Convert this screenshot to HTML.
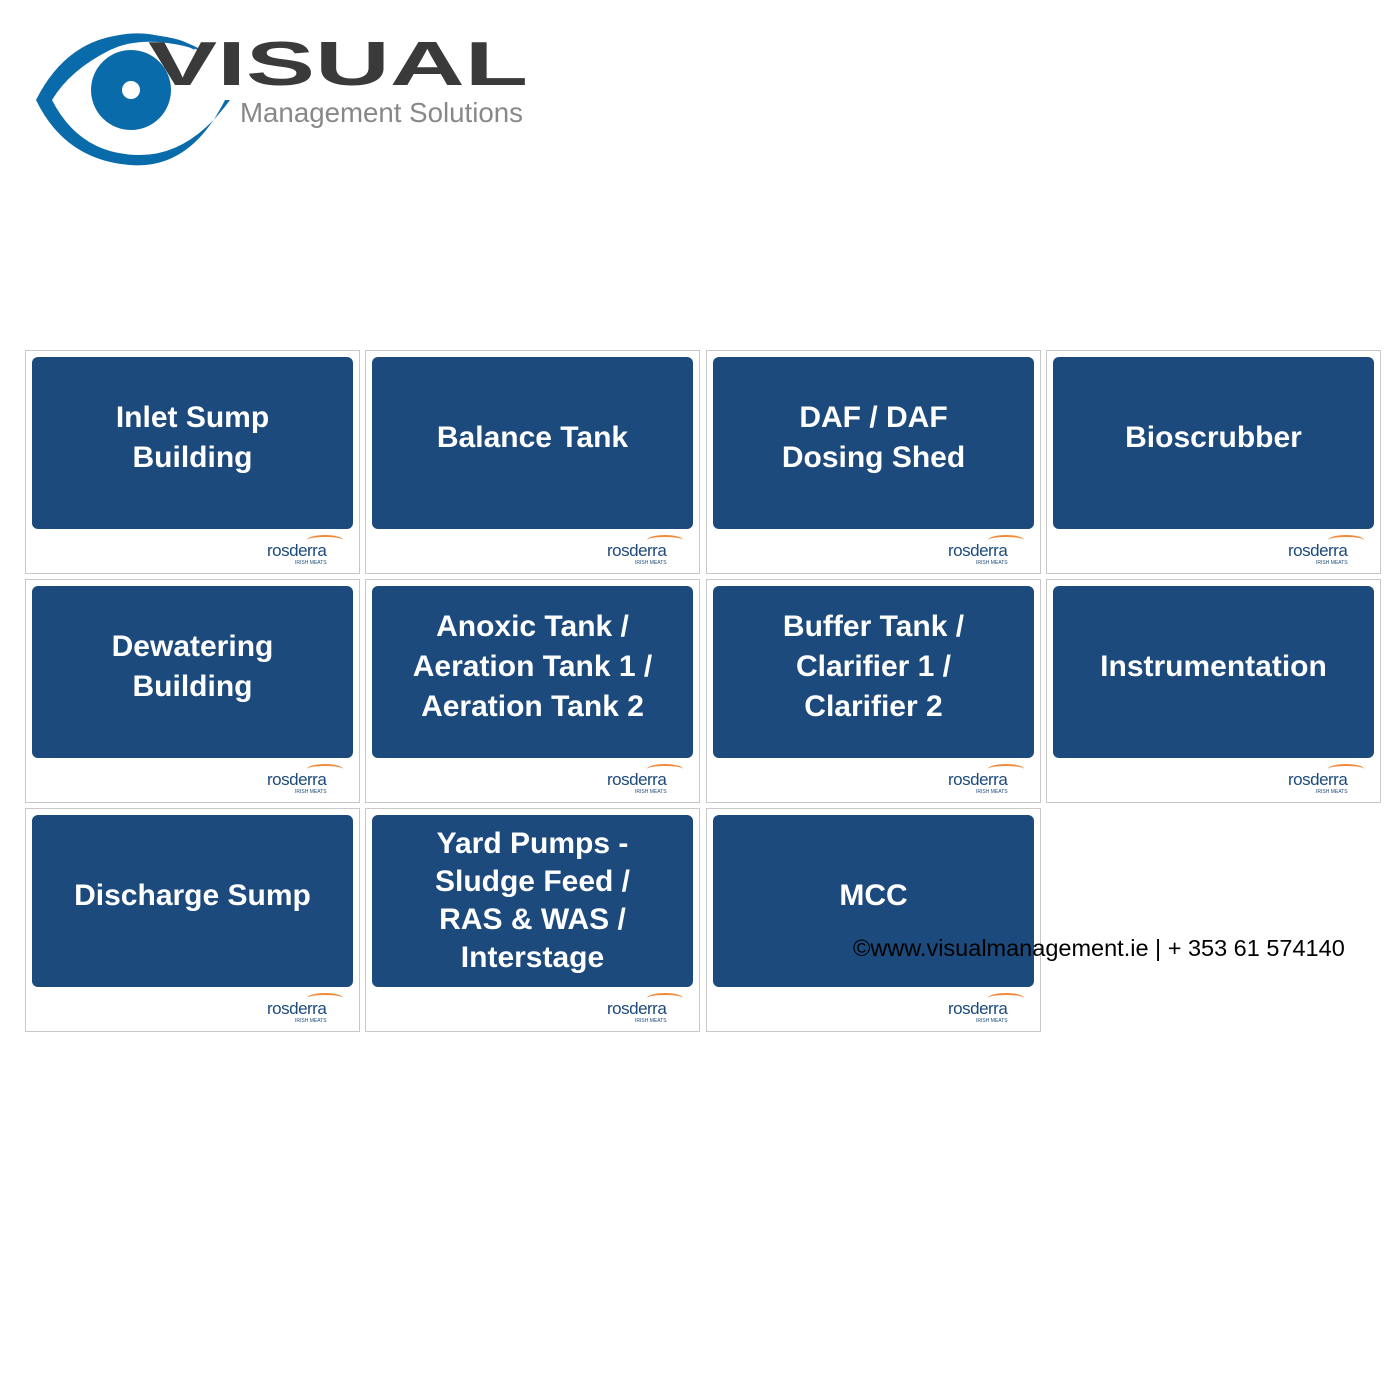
<!DOCTYPE html>
<html><head><meta charset="utf-8"><style>
body{margin:0;width:1400px;height:1400px;background:#fff;position:relative;font-family:"Liberation Sans",sans-serif;overflow:hidden}
.c{position:absolute;width:333px;height:222px;border:1px solid #c8c8c8;background:#fff}
.b{position:absolute;left:6px;top:6px;width:321px;height:162px;padding-bottom:10px;background:#1d4a7c;border-radius:6px;display:flex;align-items:center;justify-content:center;text-align:center;color:#fff;font-weight:bold;font-size:30px;line-height:40px}
.b.t{font-size:30px;line-height:38px;height:172px;padding-bottom:0}
.r{position:absolute;left:241px;top:184px;width:80px;height:32px}
.r .n{position:absolute;left:0;top:6px;font-size:17px;color:#1d4a7c;letter-spacing:-0.5px}
.r .s{position:absolute;left:28px;top:25px;font-size:5px;color:#1d4a7c}
.r .a{position:absolute;left:40px;top:0;width:36px;height:8px;border-top:2px solid #f08a3c;border-radius:50% 50% 0 0}
</style></head><body>
<svg style="position:absolute;left:30px;top:30px" width="510" height="140">
<path d="M6 70 Q60 -10 130 6 Q160 10 165 20 Q125 0 80 20 Q40 40 22 70 Q50 125 110 125 Q160 125 200 70 L195 70 Q160 140 100 135 Q35 130 6 70Z" fill="#0a6bab"/>
<path d="M6 70 Q40 2 110 4 Q150 6 175 22 Q110 0 70 25 Q35 45 20 70Z" fill="#0a6bab"/>
<circle cx="101" cy="60" r="40" fill="#0a6bab"/>
<circle cx="101" cy="60" r="9" fill="#fff"/>
<text x="118" y="55" font-family="Liberation Sans" font-weight="bold" font-size="62" fill="#3a3a3a" textLength="380" lengthAdjust="spacingAndGlyphs">VISUAL</text>
<text x="210" y="92" font-family="Liberation Sans" font-size="28" fill="#888" textLength="283" lengthAdjust="spacingAndGlyphs">Management Solutions</text>
</svg>
<div class="c" style="left:25px;top:350px"><div class="b">Inlet Sump<br>Building</div><div class="r"><div class="a"></div><div class="n">rosderra</div><div class="s">IRISH MEATS</div></div></div>
<div class="c" style="left:365px;top:350px"><div class="b">Balance Tank</div><div class="r"><div class="a"></div><div class="n">rosderra</div><div class="s">IRISH MEATS</div></div></div>
<div class="c" style="left:706px;top:350px"><div class="b">DAF / DAF<br>Dosing Shed</div><div class="r"><div class="a"></div><div class="n">rosderra</div><div class="s">IRISH MEATS</div></div></div>
<div class="c" style="left:1046px;top:350px"><div class="b">Bioscrubber</div><div class="r"><div class="a"></div><div class="n">rosderra</div><div class="s">IRISH MEATS</div></div></div>
<div class="c" style="left:25px;top:579px"><div class="b">Dewatering<br>Building</div><div class="r"><div class="a"></div><div class="n">rosderra</div><div class="s">IRISH MEATS</div></div></div>
<div class="c" style="left:365px;top:579px"><div class="b">Anoxic Tank /<br>Aeration Tank 1 /<br>Aeration Tank 2</div><div class="r"><div class="a"></div><div class="n">rosderra</div><div class="s">IRISH MEATS</div></div></div>
<div class="c" style="left:706px;top:579px"><div class="b">Buffer Tank /<br>Clarifier 1 /<br>Clarifier 2</div><div class="r"><div class="a"></div><div class="n">rosderra</div><div class="s">IRISH MEATS</div></div></div>
<div class="c" style="left:1046px;top:579px"><div class="b">Instrumentation</div><div class="r"><div class="a"></div><div class="n">rosderra</div><div class="s">IRISH MEATS</div></div></div>
<div class="c" style="left:25px;top:808px"><div class="b">Discharge Sump</div><div class="r"><div class="a"></div><div class="n">rosderra</div><div class="s">IRISH MEATS</div></div></div>
<div class="c" style="left:365px;top:808px"><div class="b t">Yard Pumps -<br>Sludge Feed /<br>RAS &amp; WAS /<br>Interstage</div><div class="r"><div class="a"></div><div class="n">rosderra</div><div class="s">IRISH MEATS</div></div></div>
<div class="c" style="left:706px;top:808px"><div class="b">MCC</div><div class="r"><div class="a"></div><div class="n">rosderra</div><div class="s">IRISH MEATS</div></div></div>
<div style="position:absolute;left:853px;top:935px;font-size:23.5px;color:#000">©www.visualmanagement.ie | + 353 61 574140</div>
</body></html>
